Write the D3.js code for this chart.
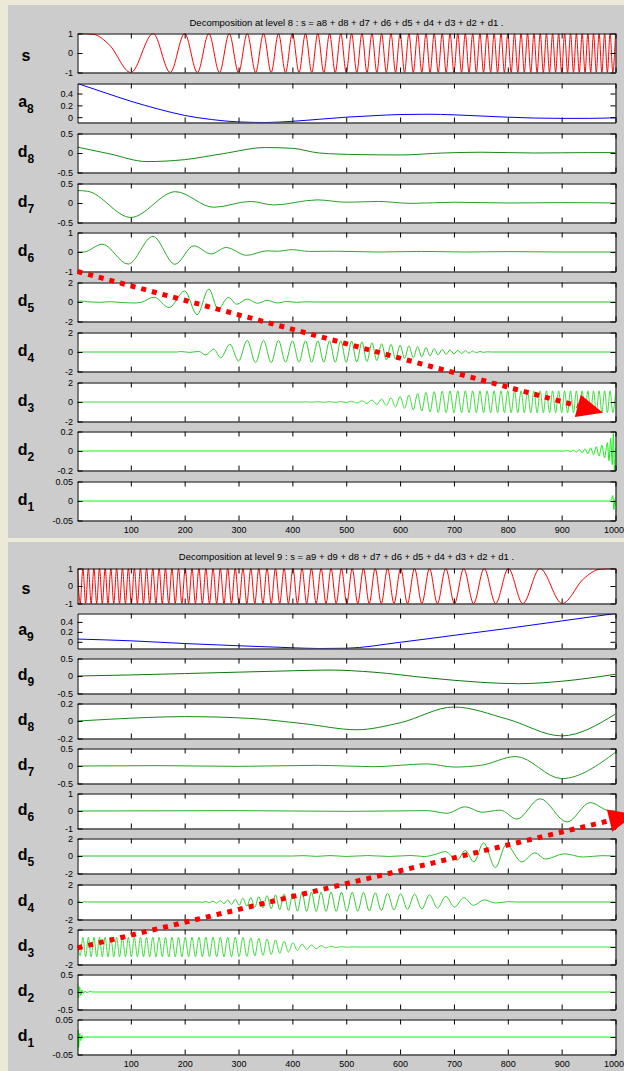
<!DOCTYPE html>
<html>
<head>
<meta charset="utf-8">
<script src="https://cdn.jsdelivr.net/npm/d3@7"></script>
<style>
  body { margin: 0; background: #ece9d8; }
  svg { display: block; }
  text { font-family: "Liberation Sans", Arial, Helvetica, sans-serif; }
</style>
</head>
<body>
<svg id="fig" width="624" height="1071"></svg>
<script>
var xTicks = [100, 200, 300, 400, 500, 600, 700, 800, 900, 1000];

// turning points (half cycles) of the chirp in the top "s" trace
var sweepTop = [
  100.0,141.4,173.2,200.0,223.6,244.9,264.6,282.8,300.0,316.2,
  331.7,346.4,360.6,374.2,387.3,400.0,412.3,424.3,435.9,447.2,
  458.3,469.0,479.6,489.9,500.0,509.9,519.6,529.2,538.5,547.7,
  556.8,565.7,574.5,583.1,591.6,600.0,608.3,616.4,624.5,632.5,
  640.3,648.1,655.7,663.3,670.8,678.2,685.6,692.8,700.0,707.1,
  714.1,721.1,728.0,734.8,741.6,748.3,755.0,761.6,768.1,774.6,
  781.0,787.4,793.7,800.0,806.2,812.4,818.5,824.6,830.7,836.7,
  842.6,848.5,854.4,860.2,866.0,871.8,877.5,883.2,888.8,894.4,
  900.0,905.5,911.0,916.5,922.0,927.4,932.7,938.1,943.4,948.7,
  953.9,959.2,964.4,969.5,974.7,979.8,984.9,990.0,995.0,1000.0];
var sTopHead = [[1, 1], [30, 0.96], [60, 0.42]];

// turning points of the reversed chirp in the bottom "s" trace
var sweepBottom = [
  1.0,6.0,11.0,16.1,21.2,26.3,31.5,36.6,41.8,47.1,
  52.3,57.6,62.9,68.3,73.6,79.0,84.5,90.0,95.5,101.0,
  106.6,112.2,117.8,123.5,129.2,135.0,140.8,146.6,152.5,158.4,
  164.3,170.3,176.4,182.5,188.6,194.8,201.0,207.3,213.6,220.0,
  226.4,232.9,239.4,246.0,252.7,259.4,266.2,273.0,279.9,286.9,
  293.9,301.0,308.2,315.4,322.8,330.2,337.7,345.3,352.9,360.7,
  368.5,376.5,384.6,392.7,401.0,409.4,417.9,426.5,435.3,444.2,
  453.3,462.5,471.8,481.4,491.1,501.0,511.1,521.4,532.0,542.7,
  553.8,565.1,576.7,588.7,601.0,613.7,626.8,640.4,654.6,669.3,
  684.8,701.0,718.2,736.4,756.1,777.4,801.0,827.8,859.6,901.0];
var sBottomTail = [[941, 0.42], [971, 0.96], [1000, 1]];

// level 8 decomposition
var a8 = [[1,0.57],[50,0.42],[100,0.27],[150,0.14],[200,0.03],[250,-0.04],[300,-0.08],[350,-0.09],
  [400,-0.07],[450,-0.035],[500,0.0],[550,0.025],[600,0.045],[650,0.05],[700,0.04],[750,0.02],
  [800,0.0],[850,-0.015],[900,-0.02],[950,-0.02],[1000,-0.01]];
var d8 = [[1,0.15],[60,-0.02],[130,-0.22],[200,-0.17],[270,-0.02],[350,0.14],[400,0.12],[450,0.0],
  [520,-0.04],[600,-0.05],[680,0.0],[750,0.02],[850,0.0],[950,0.01],[1000,0.01]];
var d7 = [[1,0.32],[20,0.3],[100,-0.37],[183,0.29],[254,-0.11],[322,0.04],[366,-0.05],[446,0.08],
  [500,0.02],[560,0.04],[620,-0.01],[700,0.02],[800,0.0],[900,0.01],[1000,0.0]];
var d6 = [[1,0],[12,0],[47,0.4],[95,-0.62],[141,0.8],[182,-0.63],[217,0.32],[249,-0.1],[277,0.23],
  [315,-0.17],[353,0.06],[372,0.04],[400,0.12],[430,0.03],[480,0.04],[560,0.0],[640,0.03],
  [720,0.0],[800,0.02],[900,0.0],[1000,0.0]];
var d5 = [[1,0.05],[8,0.1],[20,0.02],[44,-0.03],[60,0.03],[80,-0.04],[106,-0.1],[120,-0.02],
  [143,0.5],[171,-0.57],[200,1.13],[223,-1.3],[245,1.33],[262,-0.73],[281,0.47],[297,-0.23],
  [316,0.3],[335,-0.13],[353,0.17],[372,-0.1],[390,0.06],[408,-0.04],[425,0.02],[440,0],[1000,0]];
var d4 = [[1,0],[186,0],[192,0.05],[209,-0.04],[226,0.06],[239,-0.3],[254,0.3],[267,-0.6],[284,0.8],
  [300,-0.93],[316.2,1.2],[331.7,-1.1],[346.4,1.2],[360.6,-1.1],[374.2,1.2],[387.3,-1.05],[400,1.15],
  [412.3,-1.05],[424.3,1.15],[435.9,-1.05],[447.2,1.15],[458.3,-1.05],[469,1.15],[479.6,-1.05],
  [489.9,1.15],[500,-1.05],[509.9,1.12],[519.6,-1.02],[529.2,1.05],[538.5,-0.98],[547.7,0.95],
  [556.8,-0.88],[565.7,0.85],[574.5,-0.8],[583.1,0.78],[591.6,-0.72],[600,0.7],[608.3,-0.66],
  [616.4,0.63],[624.5,-0.58],[632.5,0.54],[640.3,-0.5],[648.1,0.45],[655.7,-0.4],[663.3,0.35],
  [670.8,-0.3],[678.2,0.27],[685.6,-0.24],[692.8,0.21],[700,-0.19],[707.1,0.17],[714.1,-0.15],
  [721.1,0.14],[728,-0.12],[734.8,0.1],[741.6,-0.08],[748.3,0.06],[755,-0.04],[761.6,0.02],
  [770,0],[1000,0]];
var d3v = [[1,0],[420,0],[424.3,0.02],[435.9,-0.02],[447.2,0.03],[458.3,-0.03],[469,0.04],[479.6,-0.04],
  [489.9,0.05],[500,-0.06],[509.9,0.08],[519.6,-0.1],[529.2,0.12],[538.5,-0.15],[547.7,0.2],
  [556.8,-0.25],[565.7,0.3],[574.5,-0.36],[583.1,0.42],[591.6,-0.5],[600,0.58],[608.3,-0.65],
  [616.4,0.72],[624.5,-0.8],[632.5,0.86],[640.3,-0.92],[648.1,0.98],[655.7,-1.02],[663.3,1.06],
  [670.8,-1.08],[678.2,1.12],[685.6,-1.1],[692.8,1.15],[700,-1.1],[707.1,1.15],[714.1,-1.1],
  [721.1,1.15],[728,-1.1],[734.8,1.15],[741.6,-1.1],[748.3,1.15],[755,-1.1],[761.6,1.15],
  [768.1,-1.1],[774.6,1.15],[781,-1.1],[787.4,1.15],[793.7,-1.1],[800,1.15],[806.2,-1.1],
  [812.4,1.15],[818.5,-1.1],[824.6,1.15],[830.7,-1.1],[836.7,1.15],[842.6,-1.1],[848.5,1.15],
  [854.4,-1.1],[860.2,1.15],[866,-1.1],[871.8,1.15],[877.5,-1.1],[883.2,1.15],[888.8,-1.1],
  [894.4,1.15],[900,-1.1],[905.5,1.15],[911,-1.1],[916.5,1.15],[922,-1.1],[927.4,1.15],
  [932.7,-1.1],[938.1,1.15],[943.4,-1.1],[948.7,1.15],[953.9,-1.1],[959.2,1.15],[964.4,-1.1],
  [969.5,1.15],[974.7,-1.1],[979.8,1.15],[984.9,-1.1],[990,1.15],[995,-1.1],[1000,0.9]];
var d2 = [[1,0],[905.5,0],[911,0.005],[916.5,-0.007],[922,0.009],[927.4,-0.012],[932.7,0.015],
  [938.1,-0.018],[943.4,0.022],[948.7,-0.027],[953.9,0.032],[959.2,-0.038],[964.4,0.045],
  [969.5,-0.052],[974.7,0.06],[979.8,-0.07],[984.9,0.085],[988,-0.1],[991,0.13],[994,-0.14],
  [996,0.18],[998,-0.2],[1000,0.03]];
var d1 = [[1,0],[990,0],[993,0.006],[995,0.014],[997,-0.022],[999,0.004],[1000,-0.01]];

// level 9 decomposition (time reversed signal)
var a9 = [[1,0.055],[100,0.02],[200,-0.035],[300,-0.08],[400,-0.12],[450,-0.135],[500,-0.13],
  [600,-0.01],[700,0.13],[800,0.27],[900,0.42],[1000,0.57]];
var d9b = [[1,0],[100,0.03],[200,0.07],[300,0.11],[400,0.15],[470,0.17],[550,0.11],[650,-0.05],
  [750,-0.18],[820,-0.22],[900,-0.15],[1000,0.05]];
var d8b = [[1,0.0],[60,0.02],[200,0.05],[320,0.03],[420,-0.03],[520,-0.1],[600,-0.02],[700,0.16],
  [800,0.02],[900,-0.17],[1000,0.08]];
var d7b = [[1,0],[150,0.01],[300,-0.01],[450,0.02],[550,-0.02],[650,0.06],[700,-0.03],[750,0.02],
  [815,0.27],[900,-0.36],[1000,0.39]];
var d6b = [[1,0],[300,0.02],[500,-0.02],[650,0.02],[687,-0.13],[721,0.24],[752,-0.07],[786,0.05],
  [817,-0.46],[860,0.7],[910,-0.63],[953,0.48],[990,0.0],[1000,0]];
var d5b = [[1,0],[400,0],[420,0.04],[445,-0.04],[470,0.05],[500,-0.05],[540,0.05],[580,-0.05],
  [620,0.06],[645,-0.06],[662,0.12],[684,0.5],[706,-0.47],[721,0.63],[737,-0.67],[755,1.5],
  [777,-1.33],[797,1.3],[826,-0.67],[850,0.35],[870,-0.35],[905,0.25],[940,-0.12],[975,0.04],[1000,0]];
var d4b = [[1,0],[4,0.12],[8,-0.08],[13,0.03],[20,0],[225,0],
  [232.9,-0.03],[239.4,0.05],[246,-0.07],[252.7,0.09],[259.4,-0.12],[266.2,0.15],[273,-0.18],
  [279.9,0.22],[286.9,-0.27],[293.9,0.32],[301,-0.37],[308.2,0.42],[315.4,-0.47],[322.8,0.52],
  [330.2,-0.57],[337.7,0.62],[345.3,-0.67],[352.9,0.72],[360.7,-0.77],[368.5,0.82],[376.5,-0.87],
  [384.6,0.92],[392.7,-0.97],[401,1.02],[409.4,-1.05],[417.9,1.1],[426.5,-1.08],[435.3,1.12],
  [444.2,-1.08],[453.3,1.12],[462.5,-1.08],[471.8,1.12],[481.4,-1.08],[491.1,1.12],[501,-1.08],
  [511.1,1.12],[521.4,-1.06],[532,1.1],[542.7,-1.03],[553.8,1.06],[565.1,-0.98],[576.7,1.0],
  [588.7,-0.92],[601,0.95],[613.7,-0.86],[626.8,0.9],[640.4,-0.8],[654.6,0.82],[669.3,-0.7],
  [684.8,0.65],[701,-0.58],[718.2,0.5],[736.4,-0.38],[756.1,0.25],[777.4,-0.12],[801,0.04],
  [815,0],[1000,0]];
var d3b = [[1,0.3],[6,-1.0],[11,1.1],[16.1,-1.12],[21.2,1.12],[26.3,-1.12],[31.5,1.12],[36.6,-1.12],
  [41.8,1.12],[47.1,-1.12],[52.3,1.12],[57.6,-1.12],[62.9,1.12],[68.3,-1.12],[73.6,1.12],[79,-1.12],
  [84.5,1.12],[90,-1.12],[95.5,1.12],[101,-1.12],[106.6,1.12],[112.2,-1.12],[117.8,1.12],
  [123.5,-1.12],[129.2,1.12],[135,-1.12],[140.8,1.12],[146.6,-1.12],[152.5,1.12],[158.4,-1.12],
  [164.3,1.12],[170.3,-1.12],[176.4,1.12],[182.5,-1.12],[188.6,1.12],[194.8,-1.12],[201,1.12],
  [207.3,-1.12],[213.6,1.12],[220,-1.12],[226.4,1.12],[232.9,-1.12],[239.4,1.12],[246,-1.12],
  [252.7,1.12],[259.4,-1.12],[266.2,1.12],[273,-1.12],[279.9,1.12],[286.9,-1.12],[293.9,1.12],
  [301,-1.1],[308.2,1.1],[315.4,-1.08],[322.8,1.05],[330.2,-1.02],[337.7,1.0],[345.3,-0.95],
  [352.9,0.9],[360.7,-0.85],[368.5,0.8],[376.5,-0.72],[384.6,0.65],[392.7,-0.58],[401,0.48],
  [409.4,-0.4],[417.9,0.34],[426.5,-0.28],[435.3,0.23],[444.2,-0.19],[453.3,0.15],[462.5,-0.11],
  [471.8,0.08],[481.4,-0.06],[491.1,0.04],[501,-0.03],[511.1,0.02],[521.4,-0.01],[540,0],[1000,0]];
var d2b = [[1,0.25],[3,-0.17],[5,0.15],[7,-0.1],[9,0.06],[12,-0.04],[15,0.03],[19,-0.02],[24,0.015],
  [30,0],[1000,0]];
var d1b = [[1,-0.05],[2,0.02],[3,-0.03],[5,0.01],[7,-0.01],[9,0.005],[12,-0.003],[15,0],[1000,0]];

// s traces: every half cycle of the chirp reaches +/-1
var sTop = sTopHead.concat(sweepTop.map(function (t, i) { return [t, i % 2 ? 1 : -1]; }));
var sBottom = sweepBottom.map(function (t, i) { return [t, i % 2 ? -1 : 1]; }).concat(sBottomTail);

// ---- styles ----
var RED = '#ff0000', BLUE = '#0000ff';
var green = {9: '#0a7a0a', 8: '#148a14', 7: '#22a022', 6: '#28ac28', 5: '#2dbd2d',
             4: '#33cc33', 3: '#3ddf3d', 2: '#14f014', 1: '#00ff00'};

var topRows = [
  {main: 's', sub: '', color: RED, data: sTop, ticks: [-1, 0, 1], domain: [-1, 1]},
  {main: 'a', sub: '8', color: BLUE, data: a8, ticks: [0, 0.2, 0.4]},
  {main: 'd', sub: '8', color: green[8], data: d8, ticks: [-0.5, 0, 0.5], domain: [-0.5, 0.5]},
  {main: 'd', sub: '7', color: green[7], data: d7, ticks: [-0.5, 0, 0.5], domain: [-0.5, 0.5]},
  {main: 'd', sub: '6', color: green[6], data: d6, ticks: [-1, 0, 1], domain: [-1, 1]},
  {main: 'd', sub: '5', color: green[5], data: d5, ticks: [-2, 0, 2], domain: [-2, 2]},
  {main: 'd', sub: '4', color: green[4], data: d4, ticks: [-2, 0, 2], domain: [-2, 2]},
  {main: 'd', sub: '3', color: green[3], data: d3v, ticks: [-2, 0, 2], domain: [-2, 2]},
  {main: 'd', sub: '2', color: green[2], data: d2, ticks: [-0.2, 0, 0.2], domain: [-0.2, 0.2]},
  {main: 'd', sub: '1', color: green[1], data: d1, ticks: [-0.05, 0, 0.05], domain: [-0.05, 0.05]}
];
var bottomRows = [
  {main: 's', sub: '', color: RED, data: sBottom, ticks: [-1, 0, 1], domain: [-1, 1]},
  {main: 'a', sub: '9', color: BLUE, data: a9, ticks: [0, 0.2, 0.4]},
  {main: 'd', sub: '9', color: green[9], data: d9b, ticks: [-0.5, 0, 0.5], domain: [-0.5, 0.5]},
  {main: 'd', sub: '8', color: green[8], data: d8b, ticks: [-0.2, 0, 0.2], domain: [-0.2, 0.2]},
  {main: 'd', sub: '7', color: green[7], data: d7b, ticks: [-0.5, 0, 0.5], domain: [-0.5, 0.5]},
  {main: 'd', sub: '6', color: green[6], data: d6b, ticks: [-1, 0, 1], domain: [-1, 1]},
  {main: 'd', sub: '5', color: green[5], data: d5b, ticks: [-2, 0, 2], domain: [-2, 2]},
  {main: 'd', sub: '4', color: green[4], data: d4b, ticks: [-2, 0, 2], domain: [-2, 2]},
  {main: 'd', sub: '3', color: green[3], data: d3b, ticks: [-2, 0, 2], domain: [-2, 2]},
  {main: 'd', sub: '2', color: green[2], data: d2b, ticks: [-0.5, 0, 0.5], domain: [-0.5, 0.5]},
  {main: 'd', sub: '1', color: green[1], data: d1b, ticks: [-0.05, 0, 0.05], domain: [-0.05, 0.05]}
];

var panels = [
  {title: 'Decomposition at level 8 : s = a8 + d8 + d7 + d6 + d5 + d4 + d3 + d2 + d1 .',
   bgTop: 5, bgBottom: 538, titleY: 25.5, top: 33.3, pitch: 49.75, h: 39, rows: topRows},
  {title: 'Decomposition at level 9 : s = a9 + d9 + d8 + d7 + d6 + d5 + d4 + d3 + d2 + d1 .',
   bgTop: 542, bgBottom: 1071, titleY: 559.5, top: 567.7, pitch: 45.13, h: 35, rows: bottomRows}
];

// red dotted arrows drawn over the figure (in data coordinates of a row)
var arrows = [
  {panel: 0, from: {row: 4, x: 1, y: -1}, to: {row: 7, x: 930, y: -0.4}},
  {panel: 1, from: {row: 8, x: 1, y: -0.11}, to: {row: 5, x: 989, y: -0.55}}
];

var svg = d3.select('#fig');
var x = d3.scaleLinear().domain([1, 1000]).range([77.5, 615.5]);
var fmt = function (d) { return String(d); };

panels.forEach(function (p, pi) {
  svg.append('rect').attr('x', 8).attr('y', p.bgTop).attr('width', 616)
    .attr('height', p.bgBottom - p.bgTop).attr('fill', '#cccccc');

  svg.append('text').attr('x', (x.range()[0] + x.range()[1]) / 2).attr('y', p.titleY)
    .attr('text-anchor', 'middle').attr('font-size', 9.5).text(p.title);

  p.scales = [];
  p.rows.forEach(function (r, i) {
    var y0 = Math.round(p.top + i * p.pitch) + 0.5;
    var y = d3.scaleLinear().domain(r.domain || d3.extent(r.data, function (d) { return d[1]; }))
      .range([y0 + p.h, y0]);
    p.scales.push(y);
    var last = i === p.rows.length - 1;
    var g = svg.append('g');

    g.append('rect').attr('x', x.range()[0]).attr('y', y0)
      .attr('width', x.range()[1] - x.range()[0]).attr('height', p.h).attr('fill', '#fff');

    var cid = 'clip' + pi + '_' + i;
    g.append('clipPath').attr('id', cid).append('rect')
      .attr('x', x.range()[0]).attr('y', y0)
      .attr('width', x.range()[1] - x.range()[0]).attr('height', p.h);

    g.append('path').datum(r.data)
      .attr('clip-path', 'url(#' + cid + ')')
      .attr('fill', 'none').attr('stroke', r.color).attr('stroke-width', 1)
      .attr('d', d3.line().x(function (d) { return x(d[0]); }).y(function (d) { return y(d[1]); })
        .curve(d3.curveMonotoneX));

    var axes = [
      g.append('g').attr('transform', 'translate(' + x.range()[0] + ',0)')
        .call(d3.axisLeft(y).tickValues(r.ticks).tickSizeInner(-5).tickSizeOuter(0)
          .tickPadding(4.5).tickFormat(fmt)),
      g.append('g').attr('transform', 'translate(' + x.range()[1] + ',0)')
        .call(d3.axisRight(y).tickValues(r.ticks).tickSizeInner(-5).tickSizeOuter(0).tickFormat('')),
      g.append('g').attr('transform', 'translate(0,' + y0 + ')')
        .call(d3.axisTop(x).tickValues(xTicks).tickSizeInner(-5).tickSizeOuter(0).tickFormat('')),
      g.append('g').attr('transform', 'translate(0,' + (y0 + p.h) + ')')
        .call(d3.axisBottom(x).tickValues(xTicks).tickSizeInner(-5).tickSizeOuter(0)
          .tickPadding(6).tickFormat(last ? fmt : ''))
    ];
    axes.forEach(function (a) {
      a.attr('font-size', 9).attr('font-family', null);
      a.selectAll('text').attr('fill', '#000');
    });
    // the last label sits on the window edge; nudge it so it stays readable
    axes[3].selectAll('.tick text').filter(function (d) { return d === 1000; })
      .attr('text-anchor', 'end').attr('dx', 8);

    var yc = y0 + p.h / 2;
    var lab = g.append('text').attr('x', 26).attr('y', yc + (r.sub ? 4 : 8))
      .attr('text-anchor', 'middle').attr('font-weight', 'bold').attr('font-size', 16);
    lab.append('tspan').text(r.main);
    if (r.sub) lab.append('tspan').attr('font-size', 12).attr('dy', 6).text(r.sub);
  });
});

// beige separator between the two figure windows
svg.append('rect').attr('x', 0).attr('y', 538).attr('width', 624).attr('height', 4).attr('fill', '#ece9d8');

arrows.forEach(function (a) {
  var p = panels[a.panel];
  var p0 = [x(a.from.x), p.scales[a.from.row](a.from.y)];
  var p1 = [x(a.to.x), p.scales[a.to.row](a.to.y)];
  var dx = p1[0] - p0[0], dy = p1[1] - p0[1], len = Math.sqrt(dx * dx + dy * dy);
  var u = [dx / len, dy / len], n = [-u[1], u[0]];
  svg.append('line').attr('x1', p0[0]).attr('y1', p0[1]).attr('x2', p1[0]).attr('y2', p1[1])
    .attr('stroke', RED).attr('stroke-width', 5).attr('stroke-dasharray', '5,6');
  var head = [[p1[0] + n[0] * 11.5, p1[1] + n[1] * 11.5],
              [p1[0] + u[0] * 26, p1[1] + u[1] * 26],
              [p1[0] - n[0] * 11.5, p1[1] - n[1] * 11.5]];
  svg.append('polygon').attr('points', head.map(function (q) { return q.join(','); }).join(' '))
    .attr('fill', RED);
});
</script>
</body>
</html>
